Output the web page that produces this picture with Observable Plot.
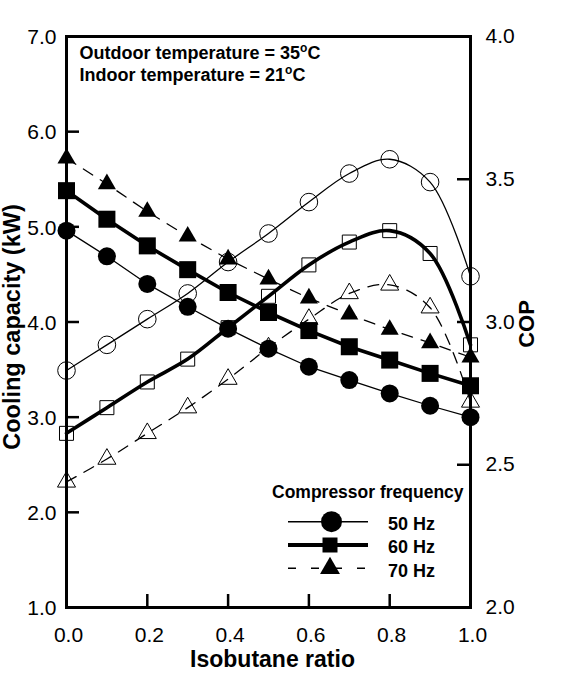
<!DOCTYPE html>
<html><head><meta charset="utf-8">
<script src="https://cdn.jsdelivr.net/npm/d3@7"></script>
<script src="https://cdn.jsdelivr.net/npm/@observablehq/plot@0.6"></script>
<style>
html,body{margin:0;padding:0;background:#fff;}
#chart{position:relative;width:588px;height:683px;}
</style></head><body><div id="chart"></div>
<script>
// ---- data ----
const ratio = [0, 0.1, 0.2, 0.3, 0.4, 0.5, 0.6, 0.7, 0.8, 0.9, 1.0];
// Cooling capacity (kW), left axis, filled markers
const cap50 = [4.96, 4.69, 4.40, 4.16, 3.93, 3.72, 3.53, 3.39, 3.25, 3.12, 3.00];
const cap60 = [5.38, 5.08, 4.80, 4.55, 4.31, 4.10, 3.91, 3.74, 3.60, 3.46, 3.33];
const cap70 = [5.72, 5.45, 5.16, 4.90, 4.66, 4.45, 4.25, 4.08, 3.92, 3.78, 3.63];
// COP, right axis, open markers
const cop50 = [2.83, 2.92, 3.01, 3.10, 3.21, 3.31, 3.42, 3.52, 3.57, 3.49, 3.16];
const cop60 = [2.61, 2.70, 2.79, 2.87, 2.98, 3.09, 3.20, 3.28, 3.32, 3.24, 2.92];
const cop70 = [2.44, 2.52, 2.61, 2.70, 2.80, 2.91, 3.01, 3.10, 3.13, 3.05, 2.72];
const freqs = ["50 Hz", "60 Hz", "70 Hz"];
const xTicks = [0, 0.2, 0.4, 0.6, 0.8, 1.0];
const capTicks = [1, 2, 3, 4, 5, 6, 7];
const copTicks = [2.0, 2.5, 3.0, 3.5, 4.0];
const annotations = ["Outdoor temperature = 35°C", "Indoor temperature = 21°C"];
const legendTitle = "Compressor frequency";

// right axis (COP 2–4) shares the left scale (1–7)
const copToCap = c => 1 + (c - 2) * 3;
const capToCop = v => (v - 1) / 3 + 2;

const rows = (vals) => ratio.map((r, i) => ({ratio: r, v: vals[i]}));
const copRows = (vals) => ratio.map((r, i) => ({ratio: r, v: copToCap(vals[i])}));

const W = 588, H = 683, mL = 66, mR = 118, mT = 36, mB = 76;
const fw = W - mL - mR, fh = H - mT - mB;
const FONT = "'Liberation Sans', Arial, sans-serif";

const thin = 1.3, thick = 3.6, dash = "11,9";

const styles = [
  {cap: cap50, cop: cop50, sym: "circle", sw: thin, da: null, rFill: 9, rOpen: 8.8},
  {cap: cap60, cop: cop60, sym: "square", sw: thick, da: null, rFill: 9.6, rOpen: 7.9},
  {cap: cap70, cop: cop70, sym: "triangle", sw: thin, da: dash, rFill: 6.7, rOpen: 6.7}
];

const marks = [];
// inward ticks
marks.push(Plot.ruleX(xTicks.slice(1, -1), {stroke: "#000", strokeWidth: 2.5, insetTop: fh - 13}));
marks.push(Plot.ruleY(capTicks.slice(1, -1), {stroke: "#000", strokeWidth: 2.5, insetRight: fw - 13}));
marks.push(Plot.ruleY(copTicks.slice(1, -1).map(copToCap), {stroke: "#000", strokeWidth: 2.5, insetLeft: fw - 13}));

for (const s of styles) {
  marks.push(Plot.line(copRows(s.cop), {x: "ratio", y: "v", curve: "catmull-rom", stroke: "#000", strokeWidth: s.sw, strokeDasharray: s.da}));
  marks.push(Plot.line(rows(s.cap), {x: "ratio", y: "v", stroke: "#000", strokeWidth: s.sw, strokeDasharray: s.da}));
}
for (const s of styles) {
  marks.push(Plot.dot(copRows(s.cop), {x: "ratio", y: "v", symbol: s.sym, r: s.rOpen, fill: "none", stroke: "#000", strokeWidth: 1}));
}
for (const s of styles) {
  marks.push(Plot.dot(rows(s.cap), {x: "ratio", y: "v", symbol: s.sym, r: s.rFill, fill: "#000", stroke: "none"}));
}
marks.push(Plot.frame({stroke: "#000", strokeWidth: 3}));

// axes
marks.push(Plot.axisX(xTicks, {tickSize: 0, tickPadding: 20, tickFormat: d3.format(".1f"), fontSize: 21, dx: 2, label: null}));
marks.push(Plot.axisY(capTicks, {anchor: "left", tickSize: 0, tickPadding: 10, tickFormat: d3.format(".1f"), fontSize: 21, dy: 1, label: null}));
marks.push(Plot.axisY(copTicks.map(copToCap), {anchor: "right", tickSize: 0, tickPadding: 15, tickFormat: v => capToCop(v).toFixed(1), fontSize: 21, label: null}));

// axis titles
marks.push(Plot.text(["Cooling capacity (kW)"], {frameAnchor: "left", textAnchor: "middle", lineAnchor: "middle", dx: -54, dy: 5, rotate: -90, fontSize: 23.5, fontWeight: "bold", text: d => d}));
marks.push(Plot.text(["COP"], {frameAnchor: "right", textAnchor: "middle", lineAnchor: "middle", dx: 56, dy: 2, rotate: -90, fontSize: 22, fontWeight: "bold", text: d => d}));
marks.push(Plot.text(["Isobutane ratio"], {frameAnchor: "bottom", textAnchor: "middle", lineAnchor: "middle", dx: 4, dy: 52, fontSize: 23, fontWeight: "bold", text: d => d}));

// annotations
marks.push(Plot.text([annotations[0]], {frameAnchor: "top-left", textAnchor: "start", lineAnchor: "top", dx: 13, dy: 10, fontSize: 18, fontWeight: "bold", text: d => d}));
marks.push(Plot.text([annotations[1]], {frameAnchor: "top-left", textAnchor: "start", lineAnchor: "top", dx: 13, dy: 31.5, fontSize: 18, fontWeight: "bold", text: d => d}));

const chart = Plot.plot({
  width: W, height: H,
  marginLeft: mL, marginRight: mR, marginTop: mT, marginBottom: mB,
  x: {domain: [0, 1]},
  y: {domain: [1, 7]},
  style: {fontFamily: FONT, fontSize: "21px", color: "#000", background: "#fff", overflow: "visible"},
  marks
});

// superscript "o" for the degree marks
d3.select(chart).selectAll("text").each(function () {
  const t = this.textContent;
  if (this.childElementCount === 0 && t.includes("°C")) {
    const [pre, post] = t.split("°");
    const sel = d3.select(this);
    sel.text(null);
    sel.append("tspan").text(pre);
    sel.append("tspan").attr("dy", -7).attr("font-size", "12px").text("o");
    sel.append("tspan").attr("dy", 7).text(post);
  }
});

// legend (inside the frame, lower right)
const svg = d3.select(chart);
const lg = svg.append("g").attr("font-family", FONT).attr("fill", "#000").attr("text-anchor", "start");
lg.append("text").attr("x", 272).attr("y", 498.3).attr("text-anchor", "start").attr("font-size", 17.5).attr("font-weight", "bold").text(legendTitle);
const rowY = [521.7, 545, 568.3];
const legSym = [d3.symbolCircle, d3.symbolSquare, d3.symbolTriangle];
const legSize = [Math.PI * 10.5 * 10.5, 15 * 15, Math.PI * 7.4 * 7.4];
freqs.forEach((f, i) => {
  lg.append("line").attr("x1", 288).attr("x2", 368).attr("y1", rowY[i]).attr("y2", rowY[i])
    .attr("stroke", "#000").attr("stroke-width", i === 1 ? 4 : 1.5)
    .attr("stroke-dasharray", i === 2 ? "8,15" : null);
  lg.append("path").attr("transform", `translate(${i === 0 ? 331.5 : 330},${rowY[i]})`)
    .attr("d", d3.symbol(legSym[i], legSize[i])()).attr("fill", "#000");
  lg.append("text").attr("x", 388).attr("y", rowY[i] + 8.3).attr("text-anchor", "start").attr("font-size", 18).attr("font-weight", "bold").text(f);
});

document.getElementById("chart").appendChild(chart);
</script>
</body></html>
